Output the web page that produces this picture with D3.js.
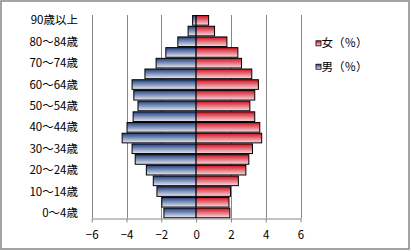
<!DOCTYPE html>
<html><head><meta charset="utf-8">
<script src="https://cdn.jsdelivr.net/npm/d3@7"></script>
<style>
html,body{margin:0;padding:0;background:#fff;}
svg{display:block;}
text{font-family:"Noto Sans CJK JP","Noto Sans",sans-serif;fill:#000;}
</style></head><body>
<script>
const categories = ["0～4歳","5～9歳","10～14歳","15～19歳","20～24歳","25～29歳","30～34歳","35～39歳","40～44歳","45～49歳","50～54歳","55～59歳","60～64歳","65～69歳","70～74歳","75～79歳","80～84歳","85～89歳","90歳以上"];
const labelShown = ["0～4歳","10～14歳","20～24歳","30～34歳","40～44歳","50～54歳","60～64歳","70～74歳","80～84歳","90歳以上"];
const male = [-1.85,-1.97,-2.25,-2.46,-2.86,-3.5,-3.68,-4.25,-3.97,-3.62,-3.34,-3.58,-3.68,-2.94,-2.3,-1.74,-1.05,-0.46,-0.2];
const female = [1.94,1.89,1.98,2.43,2.86,3.03,3.24,3.77,3.66,3.37,3.09,3.37,3.58,3.2,2.61,2.4,1.77,1.06,0.72];
const xTicks = [-6,-4,-2,0,2,4,6];
const seriesNames = ["女（％）","男（％）"];

const W=411,H=251;
const svg=d3.select("body").append("svg").attr("width",W).attr("height",H);
const defs=svg.append("defs");
function grad(id,c0,c1){
  const g=defs.append("linearGradient").attr("id",id).attr("x1",0).attr("y1",0).attr("x2",0).attr("y2",1);
  g.append("stop").attr("offset","0%").attr("stop-color",c0);
  g.append("stop").attr("offset","100%").attr("stop-color",c1);
}
grad("gRed","#d40f1f","#f7dde2");
grad("gBlue","#213f80","#e6ebf4");

svg.append("rect").attr("x",1).attr("y",1).attr("width",W-3).attr("height",H-3)
  .attr("fill","#fff").attr("stroke","#868686").attr("stroke-width",1.5);

const x=d3.scaleLinear().domain([-6,6]).range([91.7,300.5]);
const y=d3.scaleBand().domain(categories.slice().reverse()).range([15,218.3]).paddingInner(0.1).paddingOuter(0.05);

// grid
svg.append("g").selectAll("line").data(xTicks).join("line")
  .attr("x1",d=>Math.round(x(d))+0.5).attr("x2",d=>Math.round(x(d))+0.5)
  .attr("y1",15).attr("y2",218.3).attr("stroke","#868686").attr("stroke-width",1);

// bars
svg.append("g").selectAll("rect").data(categories.map((c,i)=>({c,v:male[i]}))).join("rect")
  .attr("x",d=>x(d.v)).attr("width",d=>x(0)-x(d.v))
  .attr("y",d=>y(d.c)).attr("height",y.bandwidth())
  .attr("fill","url(#gBlue)").attr("stroke","#000").attr("stroke-width",1);
svg.append("g").selectAll("rect").data(categories.map((c,i)=>({c,v:female[i]}))).join("rect")
  .attr("x",x(0)).attr("width",d=>x(d.v)-x(0))
  .attr("y",d=>y(d.c)).attr("height",y.bandwidth())
  .attr("fill","url(#gRed)").attr("stroke","#000").attr("stroke-width",1);

// x axis
const xa=svg.append("g").attr("transform","translate(0,218.5)")
  .call(d3.axisBottom(x).tickValues(xTicks).tickSize(4).tickSizeOuter(0).tickPadding(8));
xa.select(".domain").attr("stroke","#868686");
xa.selectAll(".tick line").attr("stroke","#868686");
xa.selectAll("text").attr("font-size","11.5px").attr("font-family","'Noto Sans CJK JP',sans-serif");

// y labels
svg.append("g").selectAll("text").data(labelShown).join("text")
  .attr("x",78).attr("y",d=>y(d)+y.bandwidth()/2).attr("dy","0.35em")
  .attr("text-anchor","end").attr("font-size","11.5px").text(d=>d);

// legend
const leg=svg.append("g");
const legItems=[{n:seriesNames[0],g:"url(#gRed)",y:43.3},{n:seriesNames[1],g:"url(#gBlue)",y:66.7}];
leg.selectAll("rect").data(legItems).join("rect")
  .attr("x",316).attr("y",d=>d.y-2.5).attr("width",5).attr("height",5)
  .attr("fill",d=>d.g).attr("stroke","#000").attr("stroke-width",0.8);
leg.selectAll("text").data(legItems).join("text")
  .attr("x",321.5).attr("y",d=>d.y).attr("dy","0.35em").attr("font-size","11.5px").text(d=>d.n);
</script>
</body></html>
